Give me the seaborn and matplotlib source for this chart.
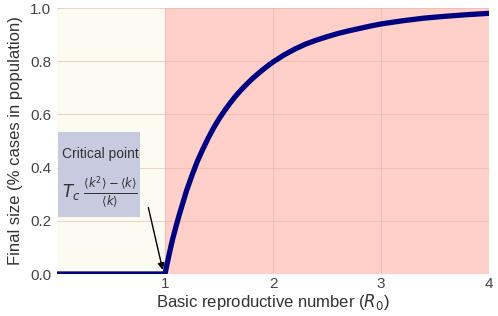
import matplotlib
matplotlib.use("Agg")
import matplotlib.pyplot as plt
from matplotlib.patches import Rectangle
import seaborn as sns

# Final epidemic size
r0_values = [0.0, 0.5, 1.0, 1.01, 1.02, 1.03, 1.05, 1.07, 1.1, 1.13, 1.16, 1.2, 1.25,
             1.3, 1.35, 1.4, 1.45, 1.5, 1.55, 1.6, 1.65, 1.7, 1.75, 1.8, 1.85, 1.9,
             1.95, 2.0, 2.1, 2.2, 2.3, 2.4, 2.5, 2.6, 2.7, 2.8, 2.9, 3.0, 3.2, 3.4,
             3.6, 3.8, 4.0]
final_size = [0.0, 0.0, 0.0, 0.020, 0.039, 0.058, 0.095, 0.130, 0.176, 0.220, 0.260,
              0.314, 0.371, 0.424, 0.469, 0.511, 0.549, 0.583, 0.613, 0.641, 0.667,
              0.690, 0.711, 0.731, 0.749, 0.766, 0.782, 0.797, 0.823, 0.845, 0.864,
              0.879, 0.892, 0.904, 0.914, 0.923, 0.932, 0.940, 0.952, 0.962, 0.969,
              0.975, 0.980]

x_ticks = [1, 2, 3, 4]
y_ticks = [0.0, 0.2, 0.4, 0.6, 0.8, 1.0]

sns.set_theme(style="whitegrid")
plt.rcParams["font.family"] = ["Liberation Sans", "DejaVu Sans"]
plt.rcParams["mathtext.fontset"] = "dejavusans"

fig = plt.figure(figsize=(4.98, 3.16), dpi=100)
ax = fig.add_axes([57 / 498, 1 - 274 / 316, 432 / 498, 266 / 316])

# sub- and supercritical regions
ax.axvspan(0, 1, color="#fbfbf2", zorder=0, lw=0)
ax.axvspan(1, 4, color="#ffd0c9", zorder=0, lw=0)

sns.lineplot(x=r0_values, y=final_size, ax=ax, color="#000080", linewidth=3.8, zorder=3)

ax.set_xlim(0, 4)
ax.set_ylim(0, 1)
ax.set_xticks(x_ticks)
ax.set_yticks(y_ticks)
ax.set_xticklabels([str(t) for t in x_ticks])
ax.set_yticklabels([f"{t:.1f}" for t in y_ticks])
ax.grid(True, color="#e8b0a8", alpha=0.55, linewidth=0.8)
ax.set_axisbelow(False)
for s in ax.spines.values():
    s.set_visible(False)
ax.tick_params(axis="x", colors="#444444", labelsize=11, length=0, pad=2)
ax.tick_params(axis="y", colors="#444444", labelsize=11, length=0, pad=4)

ax.set_xlabel(r"Basic reproductive number ($R_0$)", fontsize=12, color="#333333", labelpad=1)
ax.set_ylabel("Final size (% cases in population)", fontsize=12, color="#333333", labelpad=5)

# annotation box
ax.add_patch(Rectangle((0.01, 0.214), 0.76, 0.32, facecolor="#c8cadf", edgecolor="none", zorder=4))
ax.text(0.40, 0.452, "Critical point", fontsize=10, color="#333333", ha="center", va="center", zorder=5)
ax.text(0.40, 0.31, r"$T_c\;\frac{\langle k^2\rangle - \langle k\rangle}{\langle k\rangle}$",
        fontsize=12, color="#333333", ha="center", va="center", zorder=5)
ax.annotate("", xy=(0.985, 0.005), xytext=(0.84, 0.26),
            arrowprops=dict(arrowstyle="-|>", color="black", lw=1, mutation_scale=10), zorder=5)

fig.savefig("out.png", dpi=100)
